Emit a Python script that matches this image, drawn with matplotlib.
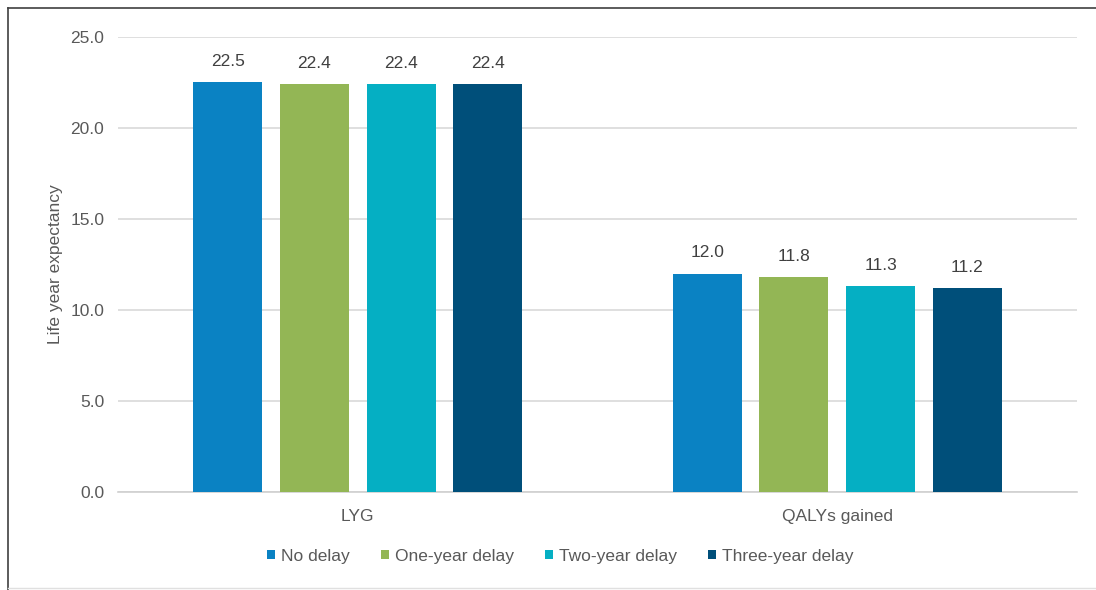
import matplotlib
matplotlib.use("Agg")
import matplotlib.pyplot as plt
from matplotlib.lines import Line2D
import numpy as np

plt.rcParams.update({
    "font.family": ["Liberation Sans", "DejaVu Sans"],
    "font.size": 12.5,
    "text.color": "#595959",
    "axes.labelcolor": "#595959",
    "xtick.color": "#595959",
    "ytick.color": "#595959",
})

categories = ["LYG", "QALYs gained"]
series = ["No delay", "One-year delay", "Two-year delay", "Three-year delay"]
no_delay = [22.5, 12.0]
one_year = [22.4, 11.8]
two_year = [22.4, 11.3]
three_year = [22.4, 11.2]
values = [no_delay, one_year, two_year, three_year]
colors = ["#0A82C3", "#93B655", "#05AFC3", "#004F7A"]

fig = plt.figure(figsize=(10.96, 5.90), dpi=100)
ax = fig.add_axes([0.1077, 0.1661, 0.8750, 0.7712])

x = np.arange(len(categories))
width = 0.144
pitch = 0.181
for i, (name, vals, c) in enumerate(zip(series, values, colors)):
    pos = x + (i - 1.5) * pitch
    bars = ax.bar(pos, vals, width=width, color=c, label=name, zorder=3)
    for b, v in zip(bars, vals):
        ax.text(b.get_x() + b.get_width() / 2, v + 0.75, f"{v:.1f}",
                ha="center", va="bottom", fontsize=12.5, color="#404040")

ax.set_xlim(-0.5, 1.5)
ax.set_ylim(0, 25)
ax.set_yticks(np.arange(0, 25.1, 5))
ax.set_yticklabels([f"{t:.1f}" for t in np.arange(0, 25.1, 5)])
ax.set_xticks(x)
ax.set_xticklabels(categories)
ax.tick_params(length=0, pad=10)
ax.tick_params(axis="x", pad=12)
ax.yaxis.grid(True, color="#D9D9D9", lw=1.2, zorder=0)
ax.set_axisbelow(True)
for s in ["top", "right", "left"]:
    ax.spines[s].set_visible(False)
ax.spines["bottom"].set_color("#D0D0D0")
ax.spines["bottom"].set_linewidth(1.2)
ax.set_ylabel("Life year expectancy", labelpad=5)

ax.legend(loc="upper center", bbox_to_anchor=(0.4614, -0.09), ncol=4, frameon=False,
          handlelength=0.45, handleheight=0.45, handletextpad=0.35, columnspacing=1.8,
          fontsize=12.5)

# outer frame of the original image
fig.add_artist(Line2D([0.0075, 0.0075], [0.0, 0.987], color="#404040", lw=1.2))
fig.add_artist(Line2D([0.0075, 1.0], [0.987, 0.987], color="#404040", lw=1.2))
fig.add_artist(Line2D([0.0075, 1.0], [0.004, 0.004], color="#E0E0E0", lw=1.0))

fig.savefig("out.png", dpi=100)
